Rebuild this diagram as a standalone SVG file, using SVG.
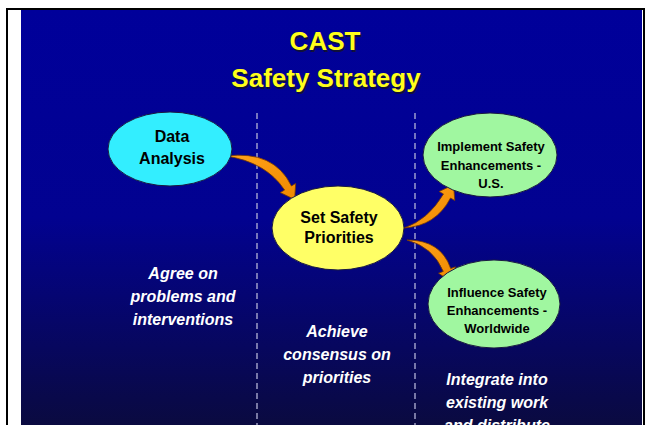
<svg xmlns="http://www.w3.org/2000/svg" width="645" height="425" viewBox="0 0 645 425">
  <defs>
    <linearGradient id="bg" x1="0" y1="0" x2="0" y2="1">
      <stop offset="0" stop-color="#00009a"/>
      <stop offset="0.5" stop-color="#020290"/>
      <stop offset="1" stop-color="#0a0a40"/>
    </linearGradient>
    <linearGradient id="arrowFill" x1="0" y1="0" x2="1" y2="1">
      <stop offset="0" stop-color="#ffa21a"/>
      <stop offset="1" stop-color="#f08a00"/>
    </linearGradient>
    <style>
      .title { font-family: "Liberation Sans", Arial, sans-serif; font-weight: bold; font-size: 26px; text-anchor: middle; }
      .title-fg { fill: #ffff1a; }
      .title-bg { fill: #10103a; }
      .node-label { font-family: "Liberation Sans", Arial, sans-serif; font-weight: bold; fill: #000; text-anchor: middle; }
      .big { font-size: 16px; }
      .small { font-size: 13px; }
      .note { font-family: "Liberation Sans", Arial, sans-serif; font-weight: bold; font-style: italic; font-size: 16px; fill: #fff; text-anchor: middle; }
      .divider { stroke: #b4b4d8; stroke-width: 1.3; stroke-dasharray: 6 4; fill: none; }
      .oval { stroke: #1a1a40; stroke-width: 1; }
      .arrow { fill: url(#arrowFill); stroke: #7a3a00; stroke-width: 0.8; stroke-linejoin: round; }
    </style>
  </defs>

  <!-- page and frame -->
  <rect x="0" y="0" width="645" height="425" fill="#ffffff"/>
  <rect x="7" y="9" width="637" height="420" fill="none" stroke="#000" stroke-width="2"/>
  <rect x="21" y="10" width="621" height="415" fill="url(#bg)"/>

  <!-- title -->
  <g id="title">
    <text class="title title-bg" x="326.5" y="51.5">CAST</text>
    <text class="title title-fg" x="325" y="50">CAST</text>
    <text class="title title-bg" x="327.5" y="88.5">Safety Strategy</text>
    <text class="title title-fg" x="326" y="87">Safety Strategy</text>
  </g>

  <!-- column dividers -->
  <g id="dividers">
    <line class="divider" x1="257" y1="113" x2="257" y2="425"/>
    <line class="divider" x1="415" y1="113" x2="415" y2="425"/>
  </g>

  <!-- connectors -->
  <g id="connectors">
    <path class="arrow" d="M226,156 Q274,150 291.4,186 L295.7,183.4 L294.6,199.5 L280.3,192.6 L284.6,190 Q266,162 226,156 Z"/>
    <path class="arrow" d="M404,228 Q436,226 450.5,198 L454.8,200.5 L453.5,184.7 L439.2,191.5 L443.5,194 Q428,220 404,228 Z"/>
    <path class="arrow" d="M407,240 Q441,240 450.7,268.6 L455.4,266.8 L451.7,282.1 L438.6,273.2 L443.3,271.4 Q433,247 407,240 Z"/>
  </g>

  <!-- nodes -->
  <g id="data-analysis">
    <ellipse class="oval" cx="170" cy="149" rx="62" ry="37" fill="#33eeff"/>
    <text class="node-label big" x="172" y="142">Data</text>
    <text class="node-label big" x="172" y="164">Analysis</text>
  </g>

  <g id="set-priorities">
    <ellipse class="oval" cx="338" cy="228" rx="66" ry="42" fill="#ffff66"/>
    <text class="node-label big" x="339" y="223">Set Safety</text>
    <text class="node-label big" x="339" y="243">Priorities</text>
  </g>

  <g id="implement-us">
    <ellipse class="oval" cx="490" cy="155" rx="67" ry="42" fill="#a0f7a0"/>
    <text class="node-label small" x="491" y="151">Implement Safety</text>
    <text class="node-label small" x="491" y="170">Enhancements -</text>
    <text class="node-label small" x="491" y="188">U.S.</text>
  </g>

  <g id="influence-worldwide">
    <ellipse class="oval" cx="494" cy="304" rx="66" ry="44" fill="#a0f7a0"/>
    <text class="node-label small" x="497" y="297">Influence Safety</text>
    <text class="node-label small" x="497" y="315">Enhancements -</text>
    <text class="node-label small" x="497" y="333">Worldwide</text>
  </g>

  <!-- column notes -->
  <g id="note-agree">
    <text class="note" x="183" y="279">Agree on</text>
    <text class="note" x="183" y="302">problems and</text>
    <text class="note" x="183" y="325">interventions</text>
  </g>
  <g id="note-consensus">
    <text class="note" x="337" y="337">Achieve</text>
    <text class="note" x="337" y="360">consensus on</text>
    <text class="note" x="337" y="383">priorities</text>
  </g>
  <g id="note-integrate">
    <text class="note" x="497" y="385">Integrate into</text>
    <text class="note" x="497" y="408">existing work</text>
    <text class="note" x="497" y="431">and distribute</text>
  </g>
</svg>
